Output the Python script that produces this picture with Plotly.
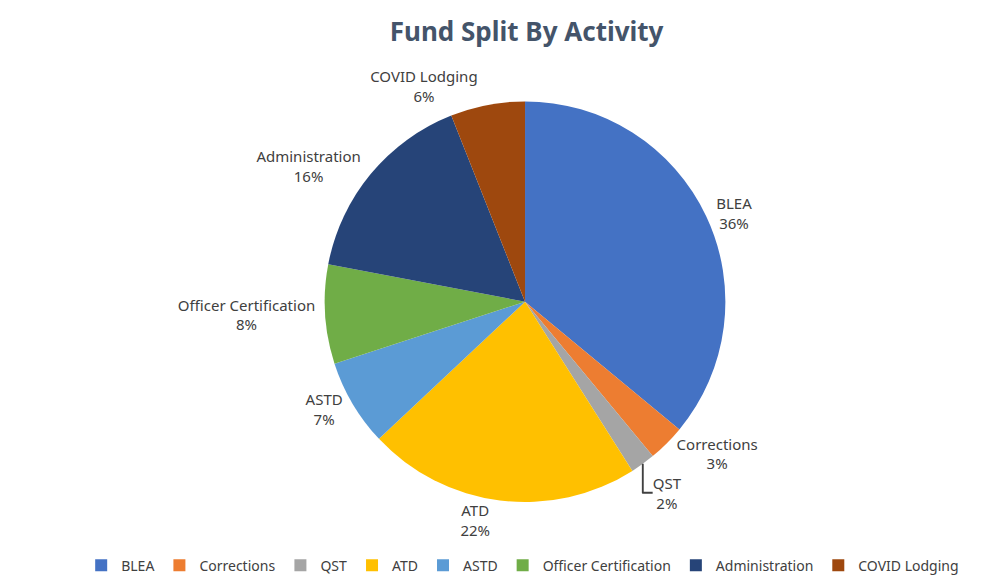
import plotly.graph_objects as go

categories = ["BLEA", "Corrections", "QST", "ATD", "ASTD",
              "Officer Certification", "Administration", "COVID Lodging"]
values = [36, 3, 2, 22, 7, 8, 16, 6]
colors = ["#4472C4", "#ED7D31", "#A5A5A5", "#FFC000", "#5B9BD5",
          "#70AD47", "#264478", "#9E480E"]

fig = go.Figure(go.Pie(
    labels=categories,
    values=values,
    sort=False,
    direction="clockwise",
    rotation=0,
    marker=dict(colors=colors, line=dict(color="white", width=0)),
    textposition="outside",
    texttemplate="%{label}<br>%{percent:.0%}",
    outsidetextfont=dict(family="Noto Sans, Arial, sans-serif", size=15, color="#404040"),
    domain=dict(x=[0.164, 0.864], y=[0.09, 0.93]),
    automargin=False,
    showlegend=True,
))

fig.update_layout(
    width=1007, height=586,
    paper_bgcolor="white",
    plot_bgcolor="white",
    margin=dict(l=20, r=20, t=60, b=30),
    title=dict(text="<b>Fund Split By Activity</b>", x=0.515, xanchor="center", y=0.975,
               font=dict(family="Noto Sans, Arial, sans-serif", size=26, color="#44546A")),
    legend=dict(orientation="h", x=0.055, xanchor="left", y=-0.01, yanchor="top",
                font=dict(family="Noto Sans, Arial, sans-serif", size=14, color="#404040"),
                itemwidth=30, traceorder="normal"),
)

fig.write_html("out.html")
